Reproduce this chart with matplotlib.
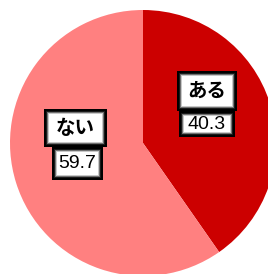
import matplotlib
matplotlib.use("Agg")
import matplotlib.pyplot as plt
from matplotlib.patches import Rectangle

# Data
labels = ["ある", "ない"]
values = [40.3, 59.7]
colors = ["#CC0000", "#FF8080"]

W, H = 268, 274
fig = plt.figure(figsize=(W / 100, H / 100), dpi=100)
ax = fig.add_axes([0, 0, 1, 1])

ax.pie(values, colors=colors, startangle=90, counterclock=False,
       center=(143, H - 143), radius=133, frame=True,
       wedgeprops=dict(linewidth=0))
ax.set_xlim(0, W); ax.set_ylim(0, H); ax.axis("off")
ax.set_aspect("equal")

JP = ["Noto Sans CJK JP", "DejaVu Sans"]


def glow_box(x0, y0, x1, y1):
    # pixel coords from top-left -> data coords
    shades = ["#000000", "#000000", "#1a1a1a", "#707070", "#c8c8c8", "#ffffff"]
    for i, c in enumerate(shades):
        ax.add_patch(Rectangle((x0 + i, H - y1 + i), (x1 - x0) - 2 * i, (y1 - y0) - 2 * i,
                               facecolor=c, edgecolor="none", zorder=5 + i * 0.01))


# label boxes (x0, y0, x1, y1) in pixels, name box then value box
name_boxes = [(177, 71, 237, 111), (44, 109, 107, 147)]
value_boxes = [(179, 111, 235, 137), (52, 147, 103, 180)]

for lab, v, nb, vb in zip(labels, values, name_boxes, value_boxes):
    glow_box(*vb)
    glow_box(*nb)
    ax.text((nb[0] + nb[2]) / 2, H - (nb[1] + nb[3]) / 2 - 0.5, lab, fontsize=14,
            fontweight="bold", family=JP, ha="center", va="center", zorder=7)
    ax.text((vb[0] + vb[2]) / 2, H - (vb[1] + vb[3]) / 2 - 0.5, f"{v:.1f}", fontsize=14,
            family="Liberation Sans", ha="center", va="center", zorder=7)

fig.savefig("out.png", dpi=100)
